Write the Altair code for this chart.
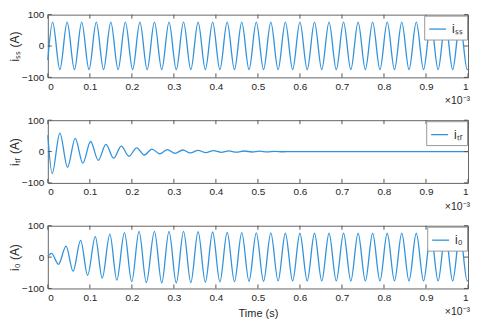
import altair as alt
import pandas as pd

W, H = 422, 63
BLUE = "#3393da"
TXT = "#262626"

x_ticks = [0, 0.1, 0.2, 0.3, 0.4, 0.5, 0.6, 0.7, 0.8, 0.9, 1.0]
y_ticks = [-100, 0, 100]

# steady-state current: start, successive peaks/troughs (time in ms), end
t_iss = [0, 0.0114, 0.0287, 0.0460, 0.0633, 0.0806, 0.0980, 0.1153, 0.1326, 0.1499,
         0.1672, 0.1845, 0.2018, 0.2191, 0.2364, 0.2537, 0.2711, 0.2884, 0.3057, 0.3230,
         0.3403, 0.3576, 0.3749, 0.3922, 0.4095, 0.4268, 0.4442, 0.4615, 0.4788, 0.4961,
         0.5134, 0.5307, 0.5480, 0.5653, 0.5826, 0.5999, 0.6173, 0.6346, 0.6519, 0.6692,
         0.6865, 0.7038, 0.7211, 0.7384, 0.7557, 0.7730, 0.7904, 0.8077, 0.8250, 0.8423,
         0.8596, 0.8769, 0.8942, 0.9115, 0.9288, 0.9461, 0.9635, 0.9808, 0.9981, 1.0]
v_iss = [-45, 76, -75, 76, -75, 76, -75, 76, -75, 76,
         -75, 76, -75, 76, -75, 76, -75, 76, -75, 76,
         -75, 76, -75, 76, -75, 76, -75, 76, -75, 76,
         -75, 76, -75, 76, -75, 76, -75, 76, -75, 76,
         -75, 76, -75, 76, -75, 76, -75, 76, -75, 76,
         -75, 76, -75, 76, -75, 76, -75, 76, -75, -74]

# transient current: decaying oscillation
t_itr = [0, 0.0103, 0.0286, 0.0469, 0.0651, 0.0834, 0.1017, 0.1200, 0.1383, 0.1565,
         0.1748, 0.1931, 0.2114, 0.2297, 0.2479, 0.2662, 0.2845, 0.3028, 0.3211, 0.3393,
         0.3576, 0.3759, 0.3942, 0.4125, 0.4307, 0.4490, 0.4673, 0.4856, 0.5039, 0.5222,
         0.5404, 0.5587, 0.58, 1.0]
v_itr = [52, -70, 59, -50, 42, -37, 32, -28, 23, -21,
         17, -15, 12, -11, 8, -7, 6, -5.5, 5, -4.5,
         4, -3.5, 3, -2.5, 2.2, -2, 1.7, -1.4, 1.2, -1,
         0.8, -0.6, 0, 0]

# total current
t_i0 = [0, 0.0087, 0.0253, 0.0434, 0.0600, 0.0781, 0.0947, 0.1129, 0.1295, 0.1476,
        0.1642, 0.1823, 0.1997, 0.2171, 0.2344, 0.2537, 0.2711, 0.2884, 0.3057, 0.3230,
        0.3403, 0.3576, 0.3749, 0.3922, 0.4095, 0.4268, 0.4442, 0.4615, 0.4788, 0.4961,
        0.5134, 0.5307, 0.5480, 0.5653, 0.5826, 0.5999, 0.6173, 0.6346, 0.6519, 0.6692,
        0.6865, 0.7038, 0.7211, 0.7384, 0.7557, 0.7730, 0.7904, 0.8077, 0.8250, 0.8423,
        0.8596, 0.8769, 0.8942, 0.9115, 0.9288, 0.9461, 0.9635, 0.9808, 0.9981, 1.0]
v_i0 = [3, 12, -23, 35, -45, 53, -58, 65, -67, 73,
        -73, 78, -78, 82, -81, 82, -82, 82, -82, 82,
        -81, 81, -80, 80, -79, 79, -78, 78, -77, 77,
        -77, 77, -76, 76, -76, 76, -76, 76, -76, 76,
        -76, 76, -76, 76, -76, 76, -76, 76, -76, 76,
        -76, 76, -76, 76, -76, 76, -76, 76, -76, -75]

panels = [
    (t_iss, v_iss, "iₛₛ", "iₛₛ (A)", None),
    (t_itr, v_itr, "iₜᵣ", "iₜᵣ (A)", None),
    (t_i0, v_i0, "i₀", "i₀ (A)", "Time (s)"),
]

xt_df = pd.DataFrame({"t": x_ticks})
yt_df = pd.DataFrame({"v": y_ticks})
xs = alt.Scale(domain=[0, 1], nice=False, zero=False)
ys = alt.Scale(domain=[-100, 100], nice=False, zero=False)


def panel(t, v, name, ytitle, xtitle):
    df = pd.DataFrame({"t": t, "v": v, "s": [name] * len(t)})
    xaxis = dict(values=x_ticks, format=".1~f", labelFontSize=10, labelColor=TXT,
                 labelPadding=4, ticks=False, domain=False, grid=False)
    if xtitle:
        xaxis.update(title=xtitle, titleFontSize=11, titleFontWeight="normal",
                     titleColor=TXT, titleY=25, titleBaseline="middle")
    else:
        xaxis["title"] = None
    yaxis = dict(values=y_ticks, labelFontSize=10, labelColor=TXT, labelPadding=4,
                 ticks=False, domain=False, grid=False, title=ytitle,
                 titleFontSize=12, titleFontWeight="normal", titleColor=TXT,
                 titleAngle=270, titleX=-33, titleY=H / 2, titleAlign="center",
                 titleBaseline="middle")
    X = alt.X("t:Q", scale=xs, axis=alt.Axis(**xaxis))
    Y = alt.Y("v:Q", scale=ys, axis=alt.Axis(**yaxis))
    line = alt.Chart(df).mark_line(strokeWidth=1.3, interpolate="monotone").encode(
        x=X, y=Y,
        color=alt.Color("s:N", scale=alt.Scale(range=[BLUE]),
                        legend=alt.Legend(title=None, orient="top-right", offset=1,
                                          fillColor="white", strokeColor="#999",
                                          padding=4, labelFontSize=12, labelColor=TXT,
                                          symbolType="stroke", symbolSize=289,
                                          symbolStrokeWidth=1.3, labelOffset=5)),
    )
    tb = alt.Chart(xt_df).mark_rule(color="#555", strokeWidth=1).encode(
        x=X, y=alt.value(H), y2=alt.value(H - 4))
    tt = alt.Chart(xt_df).mark_rule(color="#555", strokeWidth=1).encode(
        x=X, y=alt.value(0), y2=alt.value(4))
    tl = alt.Chart(yt_df).mark_rule(color="#555", strokeWidth=1).encode(
        y=Y, x=alt.value(0), x2=alt.value(4))
    tr = alt.Chart(yt_df).mark_rule(color="#555", strokeWidth=1).encode(
        y=Y, x=alt.value(W - 4), x2=alt.value(W))
    exp = alt.Chart(pd.DataFrame({"s": ["×10⁻³"]})).mark_text(
        align="right", baseline="middle", fontSize=10.5, color=TXT).encode(
        text="s:N", x=alt.value(W + 2), y=alt.value(H + 24))
    return alt.layer(line, tb, tt, tl, tr, exp).properties(width=W, height=H)


charts = [panel(*p) for p in panels]
chart = alt.vconcat(*charts, spacing=43, bounds="flush").resolve_scale(
    color="independent").configure(
    font="Liberation Sans", padding={"left": 0, "top": 0, "right": 0, "bottom": 0}
).configure_view(stroke="#666", strokeWidth=1)

chart.save("out.html", embed_options={"renderer": "svg", "actions": False})
